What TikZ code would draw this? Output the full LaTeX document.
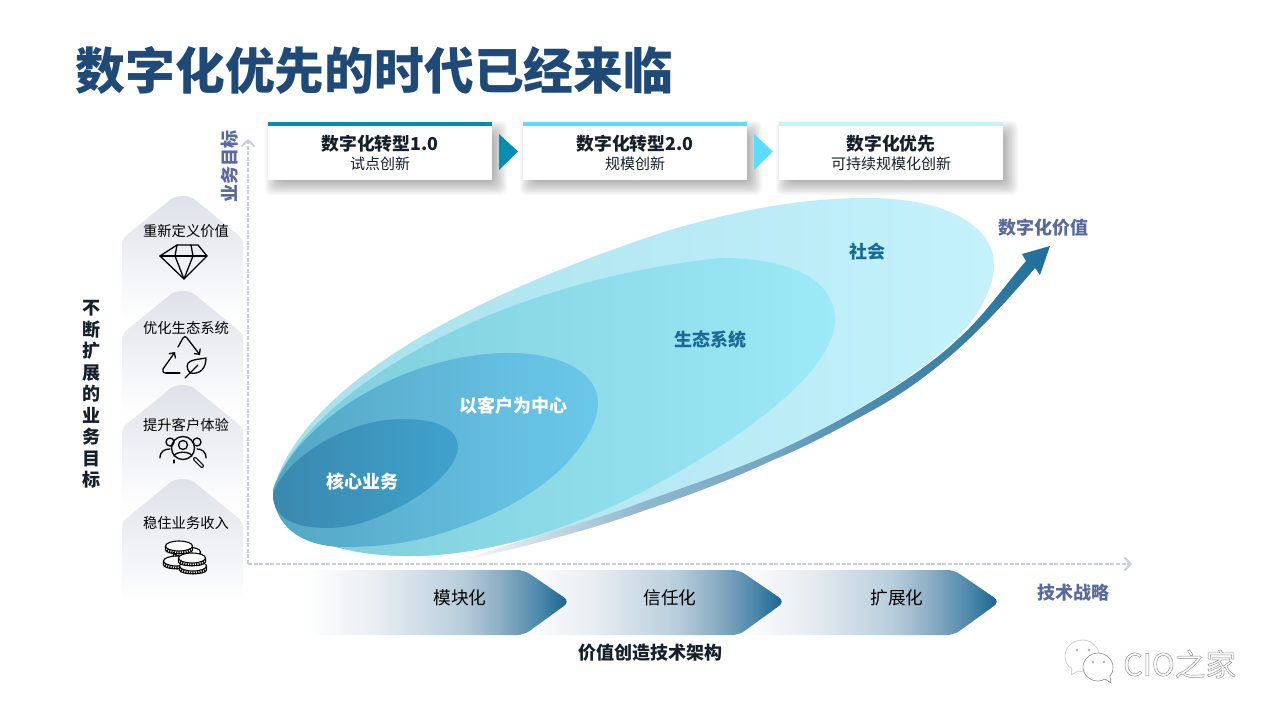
\documentclass[tikz,border=0pt]{standalone}
\usepackage{fontspec}
\setmainfont{Noto Sans CJK SC}
\usetikzlibrary{arrows.meta}
\definecolor{titleblue}{HTML}{1F4A78}
\definecolor{axisc}{HTML}{C8CEDE}
\definecolor{labelc}{HTML}{5A6A9C}
\definecolor{barA}{HTML}{008FB0}
\definecolor{barB}{HTML}{5CDCFF}
\definecolor{barC}{HTML}{C4F2FC}
\definecolor{darkt}{HTML}{15202B}
\definecolor{zoneT}{HTML}{1A6A96}
\definecolor{wm}{HTML}{A6A6A6}
\definecolor{HTMLpanel}{HTML}{DEE1E9}
\definecolor{HTMLsoc}{HTML}{A8E0EB}
\definecolor{HTMLeco}{HTML}{7CCCDA}
\definecolor{HTMLecoR}{HTML}{9CE9F7}
\definecolor{HTMLcus}{HTML}{55A6C4}
\definecolor{HTMLcusR}{HTML}{6AC8EA}
\definecolor{HTMLcor}{HTML}{3A88AE}
\definecolor{HTMLcorR}{HTML}{3FA2CC}
\definecolor{sw1}{HTML}{DDE6EC}
\definecolor{sw2}{HTML}{8FB8CE}
\definecolor{sw3}{HTML}{72A5BF}
\definecolor{sw4}{HTML}{4A8BAE}
\definecolor{sw5}{HTML}{3C80A5}
\definecolor{sw6}{HTML}{1F6F9A}
\definecolor{ch1}{HTML}{E6ECF1}
\definecolor{ch2}{HTML}{B8CEDC}
\definecolor{ch3}{HTML}{8DAEC3}
\definecolor{ch4}{HTML}{4F8AAD}
\definecolor{ch5}{HTML}{15628E}
\pgfdeclarehorizontalshading{chevshade}{100bp}{color(0bp)=(white);color(26bp)=(white);color(40bp)=(ch1);color(55bp)=(ch2);color(62bp)=(ch3);color(69bp)=(ch4);color(75bp)=(ch5);color(100bp)=(ch5)}
\pgfdeclarehorizontalshading{swshade}{100bp}{color(0bp)=(white);color(25bp)=(white);color(30bp)=(sw1);color(40.7bp)=(sw2);color(52bp)=(sw3);color(60bp)=(sw4);color(67bp)=(sw5);color(75bp)=(sw6);color(100bp)=(sw6)}
\newcommand{\fsz}[1]{\fontsize{#1}{#1}\selectfont}
\newcommand{\cardhead}[1]{\rule{0pt}{19pt}{\fontsize{17.8}{19}\selectfont\bfseries #1}}
\tikzset{
  x=1pt,y=-1pt,
  cardbox/.style={fill=white,minimum width=224pt,minimum height=58pt,inner sep=0pt,align=center,text=darkt,font=\fsz{15}},
  axisline/.style={axisc,line width=2pt,dash pattern=on 4pt off 1.6pt,-{Straight Barb[length=6pt,width=13pt]}},
  axistxt/.style={font=\fsz{18}\bfseries,text=labelc,inner sep=0pt},
  zonetxt/.style={font=\fsz{18}\bfseries,inner sep=0pt},
  chevtxt/.style={font=\fsz{17.7},text=black,inner sep=0pt},
  paneltxt/.style={font=\fsz{14.3},text=black,inner sep=0pt},
  icon/.style={black,line width=1.3pt,line cap=round,line join=round},
  headarrow/.style={-{Straight Barb[length=4pt,width=8pt]}},
}
\newcommand{\cardshadow}[4]{%
  \foreach \s in {-6,-4.5,...,9}{
    \fill[black,opacity=0.033,rounded corners=6pt] (#1+6-\s,#2+8-\s) rectangle (#3+6+\s,#4+6+\s);
  }}
\newcommand{\panel}[1]{%
  \path[top color=HTMLpanel,bottom color=white] (122,#1+124) -- (122,#1+50) .. controls (122,#1+44) and (124,#1+41) .. (128,#1+38) -- (171,#1+3) .. controls (177,#1-1) and (188,#1-1) .. (194,#1+3) -- (237,#1+38) .. controls (241,#1+41) and (243,#1+44) .. (243,#1+50) -- (243,#1+124) -- cycle;}
\newcommand{\chev}[2]{%
  \path[shading=chevshade] (#1,570) -- (#2-48,570) [rounded corners=7pt] -- (#2-44,570) -- (#2+2,601.5) -- (#2-44,635) [sharp corners] -- (#1,635) -- cycle;}
\newcommand{\coin}[2]{%
  \fill[white] (#1-13.5,#2) rectangle (#1+13.5,#2+6);
  \draw[icon,line width=1.1pt] (#1-13.5,#2) -- (#1-13.5,#2+4) .. controls (#1-13.5,#2+9) and (#1+13.5,#2+9) .. (#1+13.5,#2+4) -- (#1+13.5,#2);
  \draw[icon,line width=2.8pt,dash pattern=on 1.2pt off 1.2pt,line cap=butt] (#1-12,#2+4) .. controls (#1-8,#2+8) and (#1+8,#2+8) .. (#1+12,#2+4);
  \draw[icon,line width=1.1pt,fill=white] (#1,#2) ellipse [x radius=13.5,y radius=5];
}
\begin{document}
\begin{tikzpicture}
\useasboundingbox (0,0) rectangle (1280,720);
\fill[white] (0,0) rectangle (1280,720);
% title
\node[anchor=west,inner sep=0pt,text=titleblue,font=\fsz{49.8}\bfseries] (title) at (75.5,71) {数字化优先的时代已经来临};
% left column
\panel{196}\panel{291}\panel{385}\panel{479}
\node[paneltxt] (p1) at (186,231.5) {重新定义价值};
\node[paneltxt] (p2) at (186,328.5) {优化生态系统};
\node[paneltxt] (p3) at (186,425.5) {提升客户体验};
\node[paneltxt] (p4) at (186,523.5) {稳住业务收入};
\node[font=\fontsize{18}{21.5}\selectfont\bfseries,text=darkt,align=center,inner sep=0pt] (goal) at (91,394.5) {不\\断\\扩\\展\\的\\业\\务\\目\\标};
% diamond
\draw[icon] (177,245) -- (198,245) -- (207,256) -- (184,279) -- (160,256) -- cycle;
\draw[icon] (160,256) -- (207,256);
\draw[icon] (177,245) -- (175,256) -- (184,279) -- (193,256) -- (191,245);
% recycle
\draw[icon,headarrow] (178,347) -- (183,338) .. controls (184,336) and (186,336) .. (187,338) -- (200,355);
\draw[icon,headarrow] (166,373) .. controls (163,373) and (162,371) .. (163,369) -- (175,352);
\draw[icon] (166,373) -- (180,373);
\draw[icon] (190,373) .. controls (186,368) and (186,363) .. (191,361) .. controls (196,359) and (201,359) .. (206,358) .. controls (206,366) and (202,375) .. (190,373) -- cycle;
\draw[icon] (185,378) -- (198,365);
% people
\draw[icon] (183,448) circle (11.5);
\draw[icon] (183,445) circle (4.5);
\draw[icon] (174,456) .. controls (176,451) and (190,451) .. (192,456);
\draw[icon] (170,442) circle (4);
\draw[icon] (197,442) circle (4);
\draw[icon] (160,458) .. controls (160,451) and (165,449) .. (170,449);
\draw[icon] (206,458) .. controls (206,451) and (201,449) .. (197,449);
\draw[icon] (174,463) -- (174,460);
\draw[icon,line width=4pt] (195,459) -- (202,466);
\draw[white,line width=1.6pt,line cap=round] (195,459) -- (202,466);
% coins
\coin{187}{552}\coin{177}{561}\coin{179}{546}
\coin{193}{566}\coin{192}{558}
% shadows + cards
\cardshadow{268}{122}{492}{180}
\cardshadow{523}{122}{747}{180}
\cardshadow{779}{122}{1003}{180}
\node[cardbox] (c1) at (380,151) {\cardhead{数字化转型1.0}\\[3.5pt]试点创新};
\node[cardbox] (c2) at (635,151) {\cardhead{数字化转型2.0}\\[3.5pt]规模创新};
\node[cardbox] (c3) at (891,151) {\cardhead{数字化优先}\\[3.5pt]可持续规模化创新};
\fill[barA] (c1.north west) rectangle ([yshift=-4pt]c1.north east);
\fill[barB] (c2.north west) rectangle ([yshift=-4pt]c2.north east);
\fill[barC] (c3.north west) rectangle ([yshift=-4pt]c3.north east);
\fill[barA] (499,134) -- (518,151.5) -- (499,170) -- cycle;
\fill[barB] (754,134) -- (773,151.5) -- (754,170) -- cycle;
% zones
\path[left color=HTMLsoc,right color=barC] (273,490) .. controls (300,395) and (440,305) .. (670,230) .. controls (740,210) and (800,198) .. (867,198) .. controls (945,198) and (994,225) .. (994,265) .. controls (994,290) and (975,320) .. (957,338) .. controls (920,373) and (850,418) .. (773,453) .. controls (730,472) and (690,485) .. (640,503) .. controls (590,522) and (500,552) .. (420,556) .. controls (330,558) and (273,530) .. (273,490) -- cycle;
\path[shading=swshade] (452,563) .. controls (520,540) and (590,522) .. (640,503) .. controls (690,485) and (730,472) .. (773,453) .. controls (850,418) and (920,375) .. (957,340) .. controls (985,315) and (1005,285) .. (1026,261) -- (1022,254) -- (1050,246) -- (1040,275) -- (1035,268) .. controls (1012,295) and (985,325) .. (957,350) .. controls (925,378) and (900,395) .. (873,410) .. controls (840,428) and (810,445) .. (773,460) .. controls (730,480) and (690,495) .. (640,512) .. controls (590,530) and (520,548) .. (452,563) -- cycle;
\path[left color=HTMLeco,right color=HTMLecoR] (273,490) .. controls (300,405) and (470,285) .. (720,258) .. controls (795,258) and (835,282) .. (835,320) .. controls (835,365) and (760,430) .. (640,493) .. controls (570,528) and (490,556) .. (410,556) .. controls (330,556) and (273,530) .. (273,490) -- cycle;
\path[left color=HTMLcus,right color=HTMLcusR] (273,490) .. controls (295,425) and (400,353) .. (510,353) .. controls (565,353) and (598,375) .. (598,403) .. controls (598,425) and (580,450) .. (560,470) .. controls (530,497) and (495,515) .. (460,527) .. controls (425,540) and (390,547) .. (345,547) .. controls (300,547) and (273,525) .. (273,490) -- cycle;
\path[left color=HTMLcor,right color=HTMLcorR] (273,495) .. controls (280,465) and (340,419) .. (403,419) .. controls (440,419) and (458,430) .. (458,448) .. controls (456,470) and (425,495) .. (393,510) .. controls (370,522) and (348,528) .. (327,528) .. controls (295,528) and (273,518) .. (273,495) -- cycle;
\node[zonetxt,text=zoneT] (z1) at (867,251.7) {社会};
\node[zonetxt,text=zoneT] (z2) at (710,339.7) {生态系统};
\node[zonetxt,text=white] (z3) at (513,405.7) {以客户为中心};
\node[zonetxt,text=white] (z4) at (362.5,481.7) {核心业务};
\node[axistxt] (val) at (1043,227.7) {数字化价值};
% axes
\coordinate (org) at (248,564);
\coordinate (yend) at (248,139);
\coordinate (xend) at (1132,564);
\draw[axisline] (org) -- (yend);
\draw[axisline] (org) -- (xend);
\node[axistxt,rotate=90] (ylab) at (230,166) {业务目标};
\node[axistxt] (xlab) at (1073,592.5) {技术战略};
% chevrons
\chev{730}{998}\chev{515}{783}\chev{300}{568}
\node[chevtxt] (m1) at (460,598) {模块化};
\node[chevtxt] (m2) at (670,598) {信任化};
\node[chevtxt] (m3) at (897,598) {扩展化};
\node[inner sep=0pt,font=\fsz{18}\bfseries,text=darkt] (arch) at (650,652.7) {价值创造技术架构};
% watermark
\draw[black!22,fill=white,line width=0.6pt] (1083,640) .. controls (1073,640) and (1065,647) .. (1065,656) .. controls (1065,662) and (1068,667) .. (1072,669) -- (1071,675) -- (1078,671) .. controls (1086,673) and (1096,671) .. (1100,664) .. controls (1102,650) and (1093,640) .. (1083,640) -- cycle;
\draw[black!45,fill=white,line width=0.6pt] (1098,653) .. controls (1090,653) and (1083,660) .. (1083,667) .. controls (1083,675) and (1090,681) .. (1098,681) .. controls (1101,681) and (1103,680) .. (1105,679) -- (1111,683) -- (1110,676) .. controls (1112,674) and (1113,671) .. (1113,667) .. controls (1113,660) and (1106,653) .. (1098,653) -- cycle;
\draw[wm,line width=0.5pt] (1077,650) circle (1) (1089,650) circle (1) (1093,662) circle (1) (1104,662) circle (1);
\node[anchor=west,inner sep=0pt,font=\fsz{30.8},text=white] (wmt) at (1123,664) {\special{pdf:code q 1 Tr 0.45 w 0.55 G}CIO之家\special{pdf:code Q}};
\end{tikzpicture}
\end{document}
